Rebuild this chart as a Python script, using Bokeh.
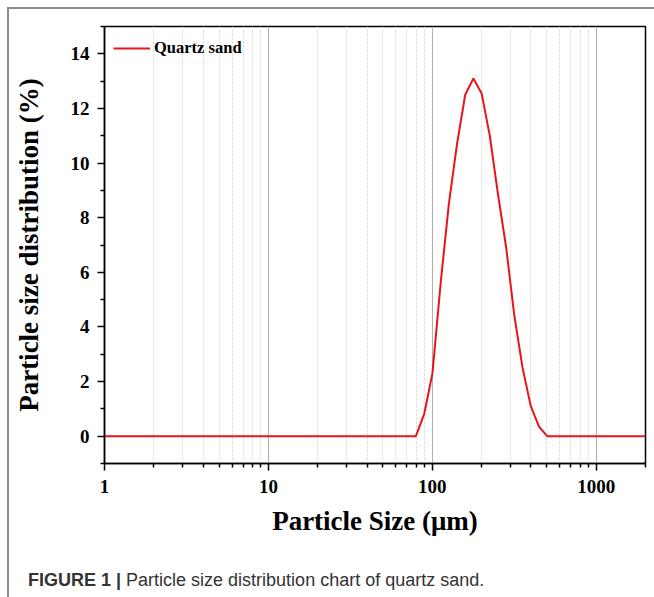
from bokeh.plotting import figure
from bokeh.models import (FixedTicker, Range1d, Legend, LegendItem, Div,
                          PrintfTickFormatter)
from bokeh.layouts import column
from bokeh.embed import file_html
from bokeh.resources import INLINE

# ---- data ----
sizes = [1.0, 79.43, 89.34, 100.24, 112.47, 126.19, 141.59, 158.87, 178.25,
         200.0, 224.4, 251.8, 282.5, 317.0, 355.6, 399.1, 447.7, 502.4, 2000.0]
dist = [0.0, 0.0, 0.82, 2.3, 5.6, 8.5, 10.7, 12.5, 13.1,
        12.55, 11.0, 8.85, 6.9, 4.4, 2.5, 1.1, 0.35, 0.0, 0.0]
series_name = "Quartz sand"
x_major = [1, 10, 100, 1000]
x_minor = [m * d for d in (1, 10, 100, 1000) for m in range(2, 10) if m * d <= 2000]
y_major = [0, 2, 4, 6, 8, 10, 12, 14]
y_minor = [-1, 1, 3, 5, 7, 9, 11, 13, 15]

SERIF = "Liberation Serif"

p = figure(width=645, height=545, x_axis_type="log",
           x_range=Range1d(1, 2000), y_range=Range1d(-1, 15),
           output_backend="svg", toolbar_location=None,
           min_border_left=95, min_border_right=9, min_border_top=17,
           min_border_bottom=91)

r = p.line(sizes, dist, line_color="#e8141c", line_width=2)

for ax in (p.xaxis[0], p.yaxis[0]):
    ax.axis_line_color = "black"
    ax.axis_line_width = 1.5
    ax.major_tick_line_color = "black"
    ax.minor_tick_line_color = "black"
    ax.major_tick_line_width = 1.5
    ax.minor_tick_line_width = 1.5
    ax.major_tick_in = 0
    ax.major_tick_out = 7
    ax.minor_tick_in = 0
    ax.minor_tick_out = 4
    ax.major_label_text_font = SERIF
    ax.major_label_text_font_style = "bold"
    ax.major_label_text_font_size = "19px"
    ax.major_label_text_color = "black"
    ax.axis_label_text_font = SERIF
    ax.axis_label_text_font_style = "bold"
    ax.axis_label_text_font_size = "27px"
    ax.axis_label_text_color = "black"

p.xaxis[0].ticker = FixedTicker(ticks=x_major, minor_ticks=x_minor)
p.xaxis[0].formatter = PrintfTickFormatter(format="%d")
p.yaxis[0].ticker = FixedTicker(ticks=y_major, minor_ticks=y_minor)
p.xaxis[0].axis_label = "Particle Size (μm)"
p.yaxis[0].axis_label = "Particle size distribution (%)"
p.xaxis[0].major_label_standoff = 9
p.xaxis[0].axis_label_standoff = 10
p.yaxis[0].major_label_standoff = 8
p.yaxis[0].axis_label_standoff = 24

p.ygrid.grid_line_color = None
p.xgrid.grid_line_color = "#b0b0b0"
p.xgrid.grid_line_width = 1
p.xgrid.minor_grid_line_color = "#d4d4d4"
p.xgrid.minor_grid_line_dash = "2 2"
p.xgrid.minor_grid_line_width = 1

p.outline_line_color = "black"
p.outline_line_width = 1.5
p.background_fill_color = "white"
p.border_fill_color = "white"

legend = Legend(items=[LegendItem(label=series_name, renderers=[r])],
                location=(9, 405), border_line_color=None,
                background_fill_alpha=0, label_text_font=SERIF,
                label_text_font_style="bold", label_text_font_size="16.5px",
                label_text_color="black",
                glyph_width=37, label_standoff=4, margin=0, padding=0)
p.add_layout(legend)

caption = Div(text="<b>FIGURE 1 |</b> Particle size distribution chart of quartz sand.",
              width=645, height=43,
              styles={"font-family": "'Liberation Sans', Arial, sans-serif",
                      "font-size": "18px", "color": "#333333",
                      "padding-left": "14px", "padding-top": "9px",
                      "box-sizing": "border-box", "white-space": "nowrap"})

layout = column(p, caption, spacing=0,
                styles={"border-top": "2px solid #8c8c8c",
                        "border-left": "2px solid #8c8c8c",
                        "margin-left": "7px", "margin-top": "7px",
                        "background": "white"})

open("out.html", "w").write(file_html(layout, INLINE))
